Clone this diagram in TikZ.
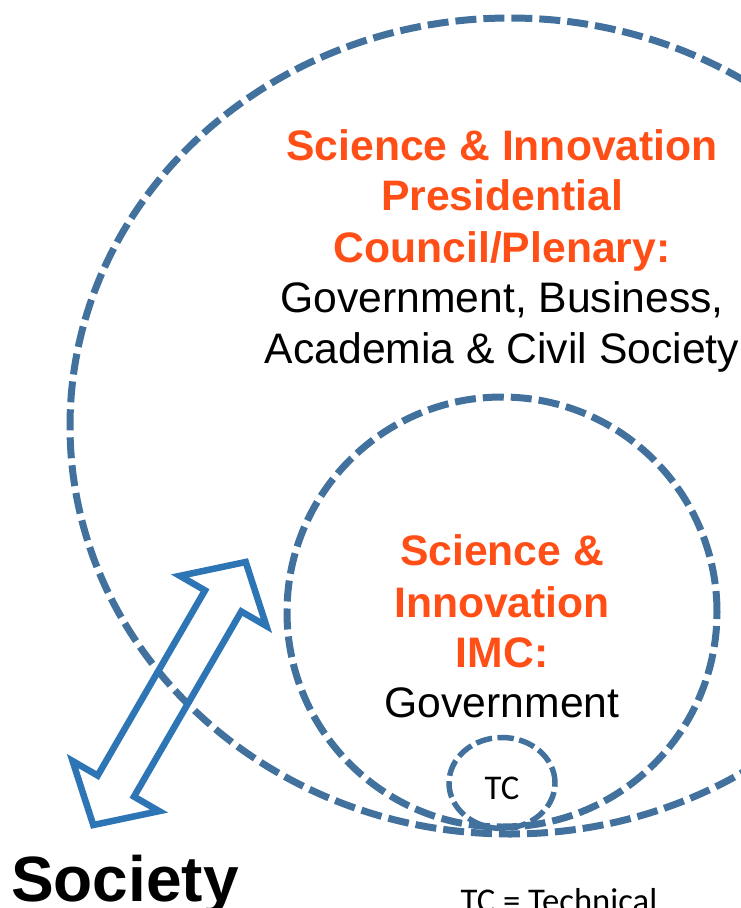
\documentclass[tikz,border=0pt]{standalone}
\usepackage{fontspec}
\setmainfont{Liberation Sans}
\newfontfamily\calibri{Carlito}
\usetikzlibrary{shapes.geometric}
\definecolor{ringblue}{HTML}{41719C}
\definecolor{arrowblue}{HTML}{2E75B6}
\definecolor{titleorange}{HTML}{FF4F17}

\begin{document}
\begin{tikzpicture}[x=0.75pt,y=-0.75pt,
  ring/.style={ellipse,draw=ringblue,line width=5.25pt,dash pattern=on 15.75pt off 5.25pt,inner sep=0pt,outer sep=0pt},
  head/.style={anchor=base,text=titleorange,font=\fontsize{32}{38}\selectfont\bfseries},
  body/.style={anchor=base,font=\fontsize{32}{38}\selectfont},
  note/.style={anchor=base,font=\calibri\fontsize{26}{30}\selectfont}]
\useasboundingbox (0,0) rectangle (741,908);
\clip (0,0) rectangle (741,908);
\node [ring,minimum width=660pt,minimum height=612pt] (council) at (510,426) {};
\node [ring,minimum width=322.5pt,minimum height=322.5pt] (imc) at (502,612) {};
\node [ring,line width=4.1pt,dash pattern=on 12.3pt off 4.1pt,minimum width=79.5pt,minimum height=68.25pt] (tc) at (502,783) {};
\begin{scope}[shift={(169.5,693.5)},rotate=59.9]
\draw [arrowblue,line width=4.9pt] (-152,0) -- (-107,50) -- (-107,21) -- (107,21) -- (107,50) -- (152,0)
  -- (107,-50) -- (107,-21) -- (-107,-21) -- (-107,-50) -- cycle;
\end{scope}
\node [head] (bigline1) at (502,160) {Science \& Innovation};
\node [head] (bigline2) at (502,210) {Presidential};
\node [head] (bigline3) at (502,262) {Council/Plenary:};
\node [body] (bigline4) at (502,312) {Government, Business,};
\node [body] (bigline5) at (502,363) {Academia \& Civil Society};
\node [head] (imcline1) at (502,565) {Science \&};
\node [head] (imcline2) at (502,617) {Innovation};
\node [head] (imcline3) at (502,667) {IMC:};
\node [body] (imcline4) at (502,717) {Government};
\node [note] (tclabel) at (502,799) {TC};
\node [note] (tcnote)  at (559,912) {TC = Technical};
\node [anchor=base,font=\fontsize{48}{56}\selectfont\bfseries] (society) at (125,901) {Society};
\end{tikzpicture}
\end{document}
